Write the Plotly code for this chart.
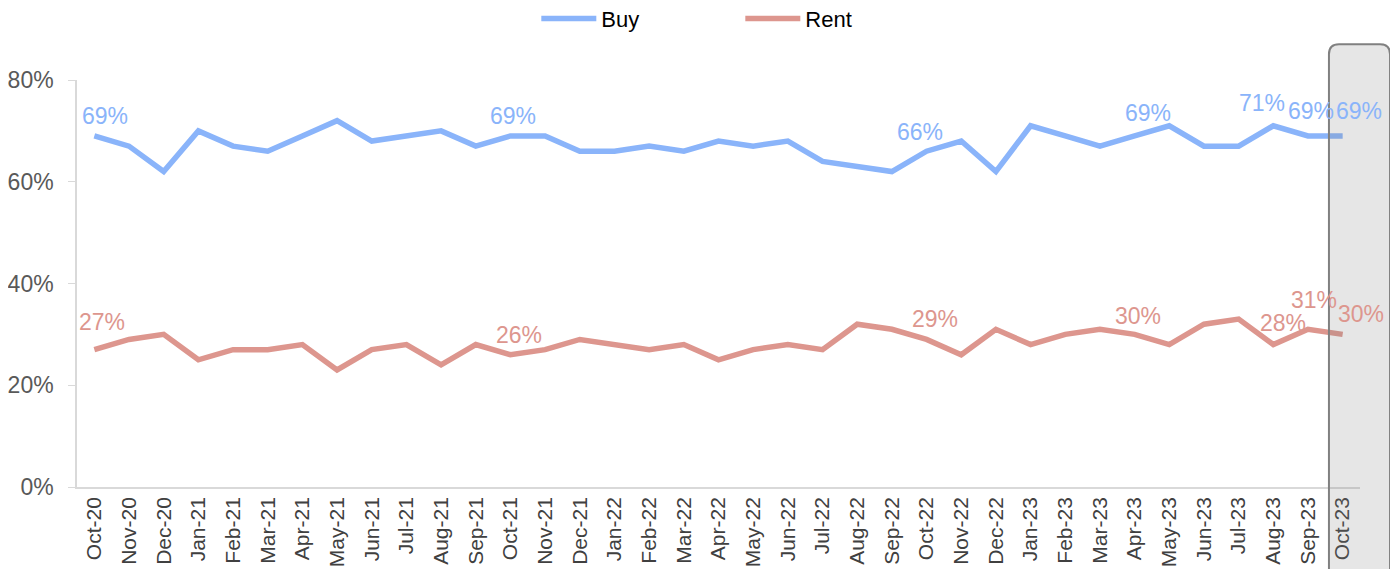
import plotly.graph_objects as go

months = ["Oct-20","Nov-20","Dec-20","Jan-21","Feb-21","Mar-21","Apr-21","May-21","Jun-21","Jul-21",
          "Aug-21","Sep-21","Oct-21","Nov-21","Dec-21","Jan-22","Feb-22","Mar-22","Apr-22","May-22",
          "Jun-22","Jul-22","Aug-22","Sep-22","Oct-22","Nov-22","Dec-22","Jan-23","Feb-23","Mar-23",
          "Apr-23","May-23","Jun-23","Jul-23","Aug-23","Sep-23","Oct-23"]

buy = [69,67,62,70,67,66,69,72,68,69,
       70,67,69,69,66,66,67,66,68,67,
       68,64,63,62,66,68,62,71,69,67,
       69,71,67,67,71,69,69]

rent = [27,29,30,25,27,27,28,23,27,28,
        24,28,26,27,29,28,27,28,25,27,
        28,27,32,31,29,26,31,28,30,31,
        30,28,32,33,28,31,30]

# indices of points carrying data labels, with pixel offsets (dx, dy) for label placement
buy_label_idx = [0, 12, 24, 30, 34, 35, 36]
buy_label_off = [(11, 20), (3, 20), (-7, 19), (13, 23), (-11, 23), (3, 25), (16, 25)]
rent_label_idx = [0, 12, 24, 30, 34, 35, 36]
rent_label_off = [(8, 28), (9, 20), (8, 20), (3, 18), (10, 22), (6, 29), (18, 20)]

BUY_C = "rgb(138,180,250)"
RENT_C = "rgb(221,150,142)"
FONT = "Liberation Sans, Arial, sans-serif"

fig = go.Figure()
fig.add_trace(go.Scatter(x=months, y=buy, name="Buy", mode="lines",
                         line=dict(color=BUY_C, width=5.5)))
fig.add_trace(go.Scatter(x=months, y=rent, name="Rent", mode="lines",
                         line=dict(color=RENT_C, width=5.5)))

annotations = []
for series, idxs, offs, col in [(buy, buy_label_idx, buy_label_off, BUY_C),
                                (rent, rent_label_idx, rent_label_off, RENT_C)]:
    for i, (dx, dy) in zip(idxs, offs):
        annotations.append(dict(x=months[i], y=series[i], text=f"{series[i]}%",
                                showarrow=False, xshift=dx, yshift=dy,
                                font=dict(family=FONT, size=23, color=col)))

# highlight box (rounded rectangle) around the latest month, in paper coordinates
x0, x1 = 0.9758, 1.0234
y0, y1 = -0.25, 1.088
rx, ry = 10 / 1283, 10 / 407.5
path = (f"M {x0} {y0} L {x0} {y1-ry} Q {x0} {y1} {x0+rx} {y1} "
        f"L {x1-rx} {y1} Q {x1} {y1} {x1} {y1-ry} L {x1} {y0} Z")
fig.add_shape(type="path", path=path, xref="paper", yref="paper",
              fillcolor="rgba(128,128,128,0.2)", line=dict(color="rgb(128,128,128)", width=2),
              layer="above")

fig.update_layout(
    width=1390, height=561,
    margin=dict(l=69, r=38, t=72, b=81.5, autoexpand=False),
    plot_bgcolor="white", paper_bgcolor="white",
    font=dict(family=FONT),
    annotations=annotations,
    showlegend=True,
    legend=dict(orientation="h", x=0.358, xanchor="left", y=1.202, yanchor="top",
                font=dict(family=FONT, size=22, color="black"),
                entrywidth=134, entrywidthmode="pixels", itemwidth=55,
                bgcolor="rgba(0,0,0,0)"),
    xaxis=dict(type="category", range=[-0.5, 36.5], tickangle=-90, automargin=False,
               tickfont=dict(family=FONT, size=21, color="#404040"),
               showline=True, linecolor="#d9d9d9", linewidth=1.5,
               showgrid=False, ticks="", zeroline=False),
    yaxis=dict(range=[0, 80], dtick=20, ticksuffix="%", automargin=False,
               tickfont=dict(family=FONT, size=23, color="#595959"),
               showline=True, linecolor="#d9d9d9", linewidth=1.5,
               ticks="outside", ticklen=7, tickcolor="#d9d9d9",
               ticklabelstandoff=10,
               showgrid=False, zeroline=False),
)

fig.write_html("out.html")
